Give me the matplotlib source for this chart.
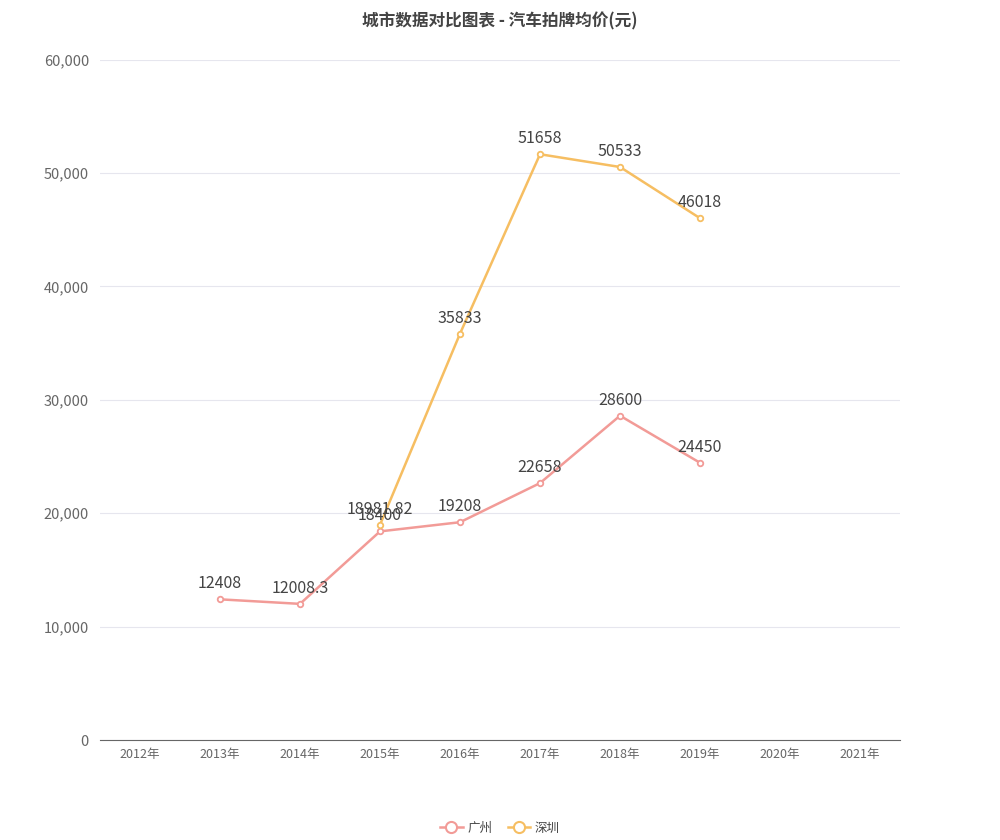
import matplotlib
matplotlib.use("Agg")
import matplotlib.pyplot as plt
from matplotlib.ticker import FuncFormatter
from matplotlib.lines import Line2D

plt.rcParams['font.family'] = ['Noto Sans CJK SC', 'DejaVu Sans']

years = ["2012年","2013年","2014年","2015年","2016年","2017年","2018年","2019年","2020年","2021年"]
gz_idx = [1,2,3,4,5,6,7]
gz_vals = [12408, 12008.3, 18400, 19208, 22658, 28600, 24450]
gz_labels = ["12408","12008.3","18400","19208","22658","28600","24450"]
sz_idx = [3,4,5,6,7]
sz_vals = [18981.82, 35833, 51658, 50533, 46018]
sz_labels = ["18981.82","35833","51658","50533","46018"]

c_gz = "#F29B97"
c_sz = "#F6BE62"

fig = plt.figure(figsize=(10, 8.4), dpi=100)
ax = fig.add_axes([0.1, 0.119, 0.8, 0.81])
ax.set_xlim(-0.5, 9.5)
ax.set_ylim(0, 60000)
ax.set_yticks(range(0, 60001, 10000))
ax.yaxis.set_major_formatter(FuncFormatter(lambda v, p: f"{int(v):,}"))
ax.set_xticks(range(len(years)))
ax.set_xticklabels(years)
ax.grid(axis='y', color='#E6E6EE', lw=0.8)
ax.set_axisbelow(True)
for s in ['top', 'right', 'left']:
    ax.spines[s].set_visible(False)
ax.spines['bottom'].set_color('#666666')
ax.tick_params(axis='y', length=0, labelcolor='#666666', labelsize=10.5, pad=8)
ax.tick_params(axis='x', length=0, labelcolor='#666666', labelsize=9, pad=6)

for idx, vals, labs, c in [(gz_idx, gz_vals, gz_labels, c_gz), (sz_idx, sz_vals, sz_labels, c_sz)]:
    ax.plot(idx, vals, color=c, lw=1.8, marker='o', ms=4, mfc='white', mec=c, mew=1.3, zorder=3)
    for x, v, l in zip(idx, vals, labs):
        ax.annotate(l, (x, v), xytext=(0, 5), textcoords='offset points', ha='center', va='bottom',
                    fontsize=11.5, color='#444444', zorder=4)

fig.text(0.5, 0.985, "城市数据对比图表 - 汽车拍牌均价(元)", ha='center', va='top',
         fontsize=12, fontweight='bold', color='#444444')

handles = [Line2D([0], [0], color=c_gz, lw=1.8, marker='o', ms=8, mfc='white', mec=c_gz, mew=1.5),
           Line2D([0], [0], color=c_sz, lw=1.8, marker='o', ms=8, mfc='white', mec=c_sz, mew=1.5)]
fig.legend(handles, ["广州", "深圳"], loc='center', bbox_to_anchor=(0.5, 0.014), ncol=2,
           frameon=False, fontsize=9, handlelength=1.8, columnspacing=1.2, handletextpad=0.4,
           labelcolor='#444444')

fig.savefig("out.png", dpi=100)
